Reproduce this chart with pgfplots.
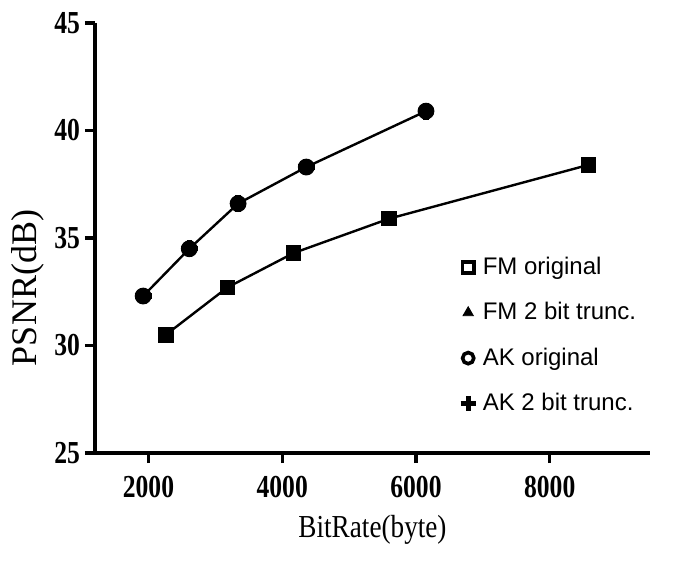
\documentclass[border=0pt]{standalone}
\usepackage{pgfplots}
\pgfplotsset{compat=1.18}
\usepackage{fontspec}
\setmainfont{Liberation Serif}
\newfontfamily\tickfont{Liberation Serif}[FakeStretch=0.8]
\newfontfamily\labfont{Liberation Serif}[FakeStretch=0.85]
\newfontfamily\legfont{Liberation Sans}

\pgfplotstableread{
x     y
2260  30.5
3180  32.7
4170  34.3
5600  35.9
8580  38.4
}\fmdata
\pgfplotstableread{
x     y
1920  32.3
2610  34.5
3340  36.6
4360  38.3
6150  40.9
}\akdata

\begin{document}
\begin{tikzpicture}
\begin{axis}[name=ax, scale only axis, width=277.5pt, height=215pt,
  xmin=1200, xmax=9500, ymin=25, ymax=45,
  axis lines=left, axis line style={line width=1.8pt, -},
  tick style={line width=1.6pt, black}, major tick length=5pt, tick align=outside,
  xtick={2000,4000,6000,8000}, ytick={25,30,35,40,45},
  scaled ticks=false, /pgf/number format/1000 sep={},
  /pgf/number format/assume math mode=true,
  ticklabel style={font=\tickfont\bfseries\fontsize{16}{16}\selectfont},
  xticklabel style={yshift=-3pt},
  yticklabel style={xshift=1pt},
  xlabel={BitRate(byte)}, ylabel={PSNR(dB)},
  xlabel style={font=\labfont\fontsize{16}{16}\selectfont, yshift=-2pt},
  ylabel style={font=\fontsize{18}{18}\selectfont, yshift=-2pt, xshift=-25pt},
  legend style={draw=none, fill=none, at={(0.658,0.475)}, anchor=north west,
    font=\legfont\fontsize{12}{12}\selectfont, row sep=8.5pt,
    legend cell align=left, inner xsep=0pt,
    nodes={inner xsep=3.5pt}},
  legend image code/.code={\draw[#1] plot coordinates {(0.2cm,0cm)};},
]
% FM: original and 2 bit trunc. lie on top of each other
\addplot[black, line width=1.2pt, mark=square*, mark size=3.4pt,
  mark options={line width=1pt}, forget plot] table {\fmdata};
\addplot[only marks, mark=triangle*, mark size=3pt, black, forget plot] table {\fmdata};
% AK: original and 2 bit trunc. lie on top of each other
\addplot[black, line width=1.2pt, mark=*, mark size=3.6pt, forget plot] table {\akdata};
\addplot[only marks, mark=+, mark size=4.2pt, line width=2.6pt, black, forget plot] table {\akdata};
% legend entries
\addlegendimage{only marks, mark=square, mark size=2.8pt, line width=1.8pt, black}
\addlegendentry{FM original}
\addlegendimage{only marks, mark=triangle*, mark size=3pt, black}
\addlegendentry{FM 2 bit trunc.}
\addlegendimage{only marks, mark=o, mark size=2.8pt, line width=1.8pt, black}
\addlegendentry{AK original}
\addlegendimage{only marks, mark=+, mark size=3.8pt, line width=2.6pt, black}
\addlegendentry{AK 2 bit trunc.}
\end{axis}
\path (ax.south west) ++(-47.5pt,-54pt) (ax.north east) ++(12pt,11.5pt);
\end{tikzpicture}
\end{document}
